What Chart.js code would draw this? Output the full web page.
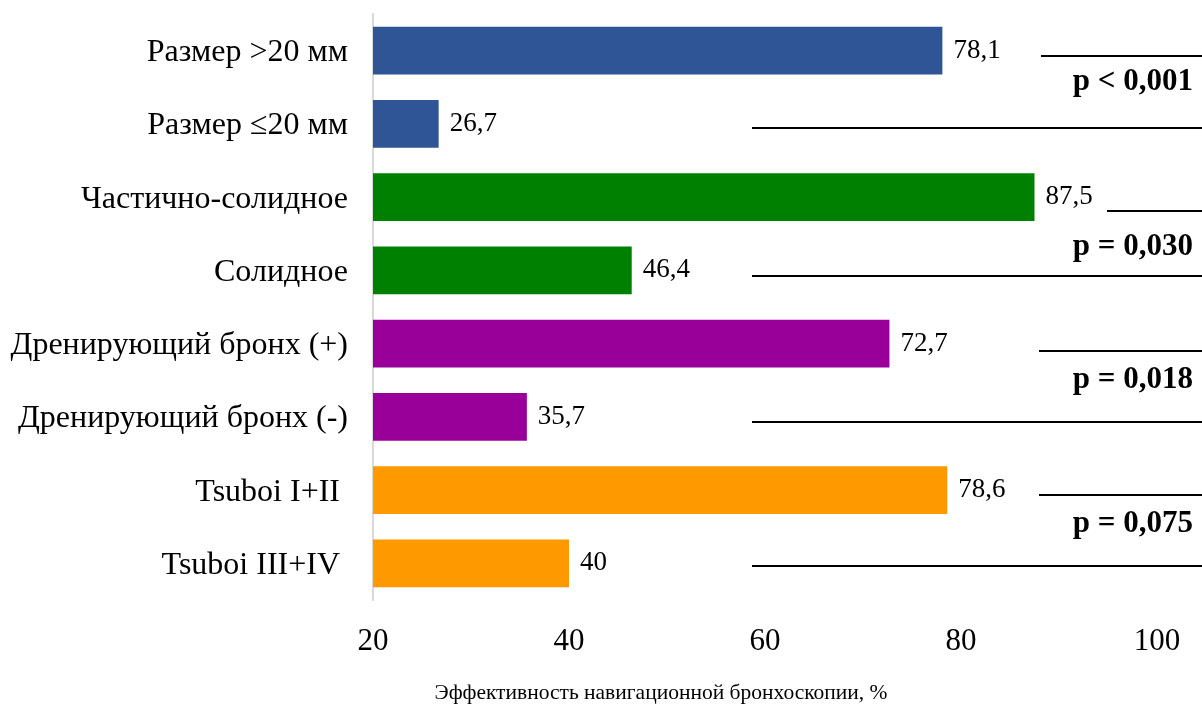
<!DOCTYPE html>
<html>
<head>
<meta charset="utf-8">
<script src="https://cdn.jsdelivr.net/npm/chart.js@4/dist/chart.umd.min.js"></script>
<style>
  html, body { margin: 0; padding: 0; background: #fff; }
  #wrap { width: 1202px; height: 706px; }
</style>
</head>
<body>
<div id="wrap"><canvas id="c" width="1202" height="706"></canvas></div>
<script>
// Categories (top to bottom) and navigation bronchoscopy yield, %
const categories = [
  'Размер >20 мм',
  'Размер ≤20 мм',
  'Частично-солидное',
  'Солидное',
  'Дренирующий бронх (+)',
  'Дренирующий бронх (-)',
  'Tsuboi I+II ',
  'Tsuboi III+IV '
];
const values = [78.1, 26.7, 87.5, 46.4, 72.7, 35.7, 78.6, 40];
const xTicks = [20, 40, 60, 80, 100];
// p-values for each pair of neighbouring bars
const pLabels = ['p < 0,001', 'p = 0,030', 'p = 0,018', 'p = 0,075'];
const axisTitle = 'Эффективность навигационной бронхоскопии, %';

const pairColors = ['#2F5597', '#008000', '#990099', '#FF9900'];
const barColors = categories.map((_, i) => pairColors[Math.floor(i / 2)]);

const SERIF = '"Liberation Serif", "Times New Roman", serif';

// Value labels, p-value brackets and the axis caption
const annotations = {
  id: 'annotations',
  afterDatasetsDraw(chart) {
    const { ctx, scales: { x, y } } = chart;
    ctx.save();

    ctx.fillStyle = '#000';
    ctx.font = '27px ' + SERIF;
    ctx.textAlign = 'left';
    ctx.textBaseline = 'middle';
    values.forEach((v, i) => {
      ctx.fillText(String(v).replace('.', ','), x.getPixelForValue(v) + 11, y.getPixelForValue(i));
    });

    const shortStart = [1041, 1107, 1039, 1039];
    const shortOff = [5, 14, 7, 5];
    const longOff = [4, 6, 5, 3];
    const textOff = [31, 50, 36, 34];
    const longStart = 752;
    const right = chart.width;

    ctx.strokeStyle = '#000';
    ctx.lineWidth = 2;
    pLabels.forEach((label, k) => {
      const yTop = y.getPixelForValue(2 * k);
      const yBot = y.getPixelForValue(2 * k + 1);
      ctx.beginPath();
      ctx.moveTo(shortStart[k], Math.round(yTop + shortOff[k]));
      ctx.lineTo(right, Math.round(yTop + shortOff[k]));
      ctx.moveTo(longStart, Math.round(yBot + longOff[k]));
      ctx.lineTo(right, Math.round(yBot + longOff[k]));
      ctx.stroke();

      ctx.font = 'bold 31px ' + SERIF;
      ctx.textAlign = 'right';
      ctx.textBaseline = 'middle';
      ctx.fillText(label, 1193, yTop + textOff[k]);
    });

    ctx.font = '21.5px ' + SERIF;
    ctx.textAlign = 'center';
    ctx.textBaseline = 'middle';
    ctx.fillText(axisTitle, 661, 693);

    ctx.restore();
  }
};

new Chart(document.getElementById('c'), {
  type: 'bar',
  data: {
    labels: categories,
    datasets: [{
      data: values,
      backgroundColor: barColors,
      borderWidth: 0,
      barPercentage: 0.655,
      categoryPercentage: 1
    }]
  },
  options: {
    indexAxis: 'y',
    responsive: false,
    animation: false,
    layout: { padding: { top: 14, right: 45, left: 0, bottom: 0 } },
    plugins: { legend: { display: false }, tooltip: { enabled: false } },
    scales: {
      x: {
        min: 20,
        max: 100,
        afterBuildTicks: s => { s.ticks = xTicks.map(v => ({ value: v })); },
        grid: { display: false, drawTicks: false },
        border: { display: false },
        ticks: { font: { family: SERIF, size: 31 }, color: '#000', padding: 23, maxRotation: 0 },
        afterFit: s => { s.height = 106; s.paddingLeft = 0; s.paddingRight = 0; }
      },
      y: {
        grid: { display: false, drawTicks: false },
        border: { display: true, color: '#d9d9d9', width: 2 },
        ticks: { font: { family: SERIF, size: 32 }, color: '#000', padding: 25, labelOffset: 2 },
        afterFit: s => { s.width = 373; s.paddingTop = 0; s.paddingBottom = 0; }
      }
    }
  },
  plugins: [annotations]
});
</script>
</body>
</html>
